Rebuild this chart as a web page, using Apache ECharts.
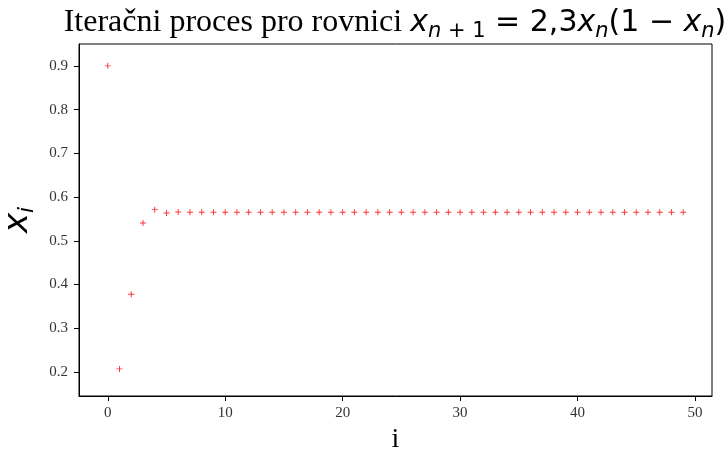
<!DOCTYPE html>
<html><head><meta charset="utf-8">
<script src="https://cdn.jsdelivr.net/npm/echarts@6/dist/echarts.min.js"></script>
<style>html,body{margin:0;padding:0;background:#fff}#c{width:728px;height:454px}</style>
</head><body><div id="c"></div>
<script>
const iterations = [0,1,2,3,4,5,6,7,8,9,10,11,12,13,14,15,16,17,18,19,20,21,22,23,24,25,26,27,28,29,30,31,32,33,34,35,36,37,38,39,40,41,42,43,44,45,46,47,48,49];
const xValues = [0.9,0.207,0.3775,0.5405,0.5712,0.5633,0.5658,0.5651,0.5653,0.5652,
0.5652,0.5652,0.5652,0.5652,0.5652,0.5652,0.5652,0.5652,0.5652,0.5652,
0.5652,0.5652,0.5652,0.5652,0.5652,0.5652,0.5652,0.5652,0.5652,0.5652,
0.5652,0.5652,0.5652,0.5652,0.5652,0.5652,0.5652,0.5652,0.5652,0.5652,
0.5652,0.5652,0.5652,0.5652,0.5652,0.5652,0.5652,0.5652,0.5652,0.5652];
const xTicks = [0,10,20,30,40,50];
const yTicks = [0.2,0.3,0.4,0.5,0.6,0.7,0.8,0.9];

const chart = echarts.init(document.getElementById('c'), null, {renderer:'canvas'});
const serif = '"Liberation Serif","DejaVu Serif",serif';
const sans = '"DejaVu Sans",sans-serif';
chart.setOption({
  animation:false,
  backgroundColor:'#fff',
  title:{
    text:'{a|Iteračni proces pro rovnici }{m|x}{s|n}{u| + 1}{b| = 2,3}{m|x}{s|n}{b|(1 − }{m|x}{s|n}{b|)}',
    left:390, top:-1, textAlign:'center',
    textStyle:{
      fontWeight:'normal',
      rich:{
        a:{fontFamily:serif,fontWeight:'normal',fontSize:32,color:'#000',lineHeight:38,verticalAlign:'middle'},
        m:{fontFamily:sans,fontWeight:'normal',fontStyle:'italic',fontSize:30,color:'#000',lineHeight:38,verticalAlign:'middle'},
        b:{fontFamily:sans,fontWeight:'normal',fontSize:30,color:'#000',lineHeight:38,verticalAlign:'middle'},
        s:{fontFamily:sans,fontWeight:'normal',fontStyle:'italic',fontSize:21,color:'#000',lineHeight:34,verticalAlign:'bottom'},
        u:{fontFamily:sans,fontWeight:'normal',fontSize:21,color:'#000',lineHeight:34,verticalAlign:'bottom'}
      }
    }
  },
  grid:{left:79,right:16,top:44,bottom:58,show:true,borderColor:'#000',borderWidth:1,containLabel:false,outerBoundsMode:'none'},
  xAxis:{
    type:'value',min:-2.45,max:51.45,
    axisLine:{show:true,onZero:false,lineStyle:{color:'#000',width:1}},
    splitLine:{show:false},
    axisTick:{show:true,length:5,inside:false,customValues:xTicks,lineStyle:{color:'#000'}},
    axisLabel:{customValues:xTicks,fontFamily:serif,fontSize:15,color:'#333',margin:10},
    name:'i',nameLocation:'middle',nameGap:30,
    nameTextStyle:{fontFamily:serif,fontSize:28,color:'#000'}
  },
  yAxis:{
    type:'value',min:0.145,max:0.95,
    axisLine:{show:true,onZero:false,lineStyle:{color:'#000',width:1}},
    splitLine:{show:false},
    axisTick:{show:true,length:5,inside:false,customValues:yTicks,lineStyle:{color:'#000'}},
    axisLabel:{customValues:yTicks,fontFamily:serif,fontSize:15,color:'#333',margin:11,formatter:v=>v.toFixed(1)},
    name:'{m|x}{s|i}',nameLocation:'middle',nameGap:36,nameRotate:90,
    nameTextStyle:{rich:{
      m:{fontFamily:sans,fontStyle:'italic',fontSize:34,color:'#000',lineHeight:40,verticalAlign:'middle'},
      s:{fontFamily:sans,fontStyle:'italic',fontSize:22,color:'#000',lineHeight:36,verticalAlign:'bottom'}
    }}
  },
  series:[{
    type:'scatter',
    data:iterations.map((i,k)=>[i,xValues[k]]),
    symbol:'path://M4.2,0h1.6v10h-1.6z M0,4.2h10v1.6h-10z',
    symbolSize:6,
    itemStyle:{color:'#ff0000'}
  }]
});
</script></body></html>
